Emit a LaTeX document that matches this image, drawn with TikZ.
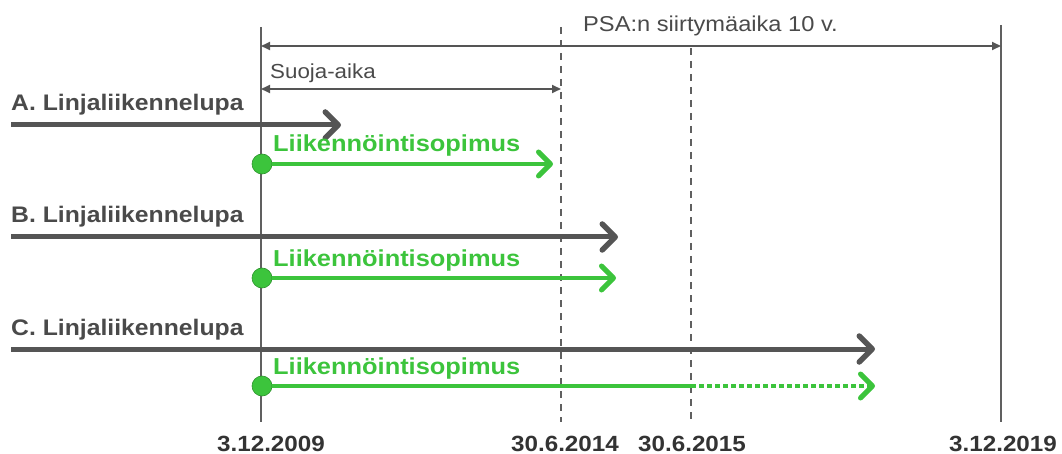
\documentclass[tikz,border=0pt]{standalone}
\usepackage{fontspec}
\setmainfont{Liberation Sans}[FakeStretch=1.1]
\usetikzlibrary{arrows.meta}
\definecolor{dgray}{HTML}{555555}
\definecolor{lgray}{HTML}{606060}
\definecolor{lgreen}{HTML}{3CC43C}
\definecolor{txtgray}{HTML}{4A4A4A}
\definecolor{dategray}{HTML}{333333}
\begin{document}
\begin{tikzpicture}[x=1pt,y=-1pt,
  vline/.style={draw=lgray, line width=2.2pt},
  dline/.style={draw=lgray, line width=2.2pt, dash pattern=on 7pt off 6pt},
  spanarrow/.style={draw=dgray, line width=1.8pt, {Triangle[length=9pt,width=8pt]}-{Triangle[length=9pt,width=8pt]}},
  bigarrow/.style={draw=dgray, line width=5pt, -{Straight Barb[length=13pt,width=26pt,round,line width=5.5pt]}},
  greenarrow/.style={draw=lgreen, line width=4.5pt, -{Straight Barb[length=12pt,width=24pt,round,line width=5pt]}},
  greenline/.style={draw=lgreen, line width=4.5pt},
  greendots/.style={draw=lgreen, line width=4.5pt, dash pattern=on 5pt off 3pt, -{Straight Barb[length=12pt,width=24pt,round,line width=5pt]}},
  dot/.style={circle, fill=lgreen, draw=lgreen!75!black, line width=0.6pt, minimum size=20pt, inner sep=0pt},
  lab/.style={anchor=base west, inner sep=0pt, font=\bfseries\fontsize{22.5}{22.5}\selectfont, text=txtgray},
  glab/.style={anchor=base west, inner sep=0pt, font=\bfseries\fontsize{23.1}{23.1}\selectfont, text=lgreen},
  thinlab/.style={anchor=base west, inner sep=0pt, font=\fontsize{21.5}{21.5}\selectfont, text=txtgray},
  datelab/.style={anchor=base, inner sep=0pt, font=\bfseries\fontsize{22}{22}\selectfont, text=dategray}
]
\useasboundingbox (0,0) rectangle (1062,454);
% vertical lines
\coordinate (v1t) at (261,27);  \coordinate (v1b) at (261,422);
\coordinate (v2t) at (561,27);  \coordinate (v2b) at (561,422);
\coordinate (v3t) at (691,48);  \coordinate (v3b) at (691,422);
\coordinate (v4t) at (1001,25); \coordinate (v4b) at (1001,422);
\draw[vline] (v1t) -- (v1b);
\draw[dline] (v2t) -- (v2b);
\draw[dline] (v3t) -- (v3b);
\draw[vline] (v4t) -- (v4b);
% top spans
\coordinate (p1) at (261,46); \coordinate (p2) at (1001,46);
\draw[spanarrow] (p1) -- (p2);
\node[thinlab] (psa) at (583,32) {PSA:n siirtymäaika 10 v.};
\coordinate (s1) at (261,89); \coordinate (s2) at (561,89);
\draw[spanarrow] (s1) -- (s2);
\node[thinlab, font=\fontsize{20.3}{20.3}\selectfont] (suoja) at (270,79) {Suoja-aika};
% row A
\node[lab] (la) at (11,111) {A. Linjaliikennelupa};
\coordinate (a0) at (11,125); \coordinate (a1) at (341,125);
\draw[bigarrow] (a0) -- (a1);
\node[glab] (ga) at (273,152) {Liikennöintisopimus};
\node[dot] (da) at (262,164) {};
\coordinate (ae) at (553,164);
\draw[greenarrow] (da.east) -- (ae);
% row B
\node[lab] (lb) at (11,223) {B. Linjaliikennelupa};
\coordinate (b0) at (11,237); \coordinate (b1) at (618,237);
\draw[bigarrow] (b0) -- (b1);
\node[glab] (gb) at (273,266) {Liikennöintisopimus};
\node[dot] (db) at (262,278) {};
\coordinate (be) at (616,278);
\draw[greenarrow] (db.east) -- (be);
% row C
\node[lab] (lc) at (11,335) {C. Linjaliikennelupa};
\coordinate (c0) at (11,349); \coordinate (c1) at (875,349);
\draw[bigarrow] (c0) -- (c1);
\node[glab] (gc) at (273,374) {Liikennöintisopimus};
\node[dot] (dc) at (262,386) {};
\coordinate (cm) at (691,386); \coordinate (ce) at (875,386);
\draw[greenline] (dc.east) -- (cm);
\draw[greendots] (cm) -- (ce);
% dates
\node[datelab] (d1) at (271,451) {3.12.2009};
\node[datelab] (d2) at (565,451) {30.6.2014};
\node[datelab] (d3) at (692,451) {30.6.2015};
\node[datelab] (d4) at (1003,451) {3.12.2019};
\end{tikzpicture}
\end{document}
